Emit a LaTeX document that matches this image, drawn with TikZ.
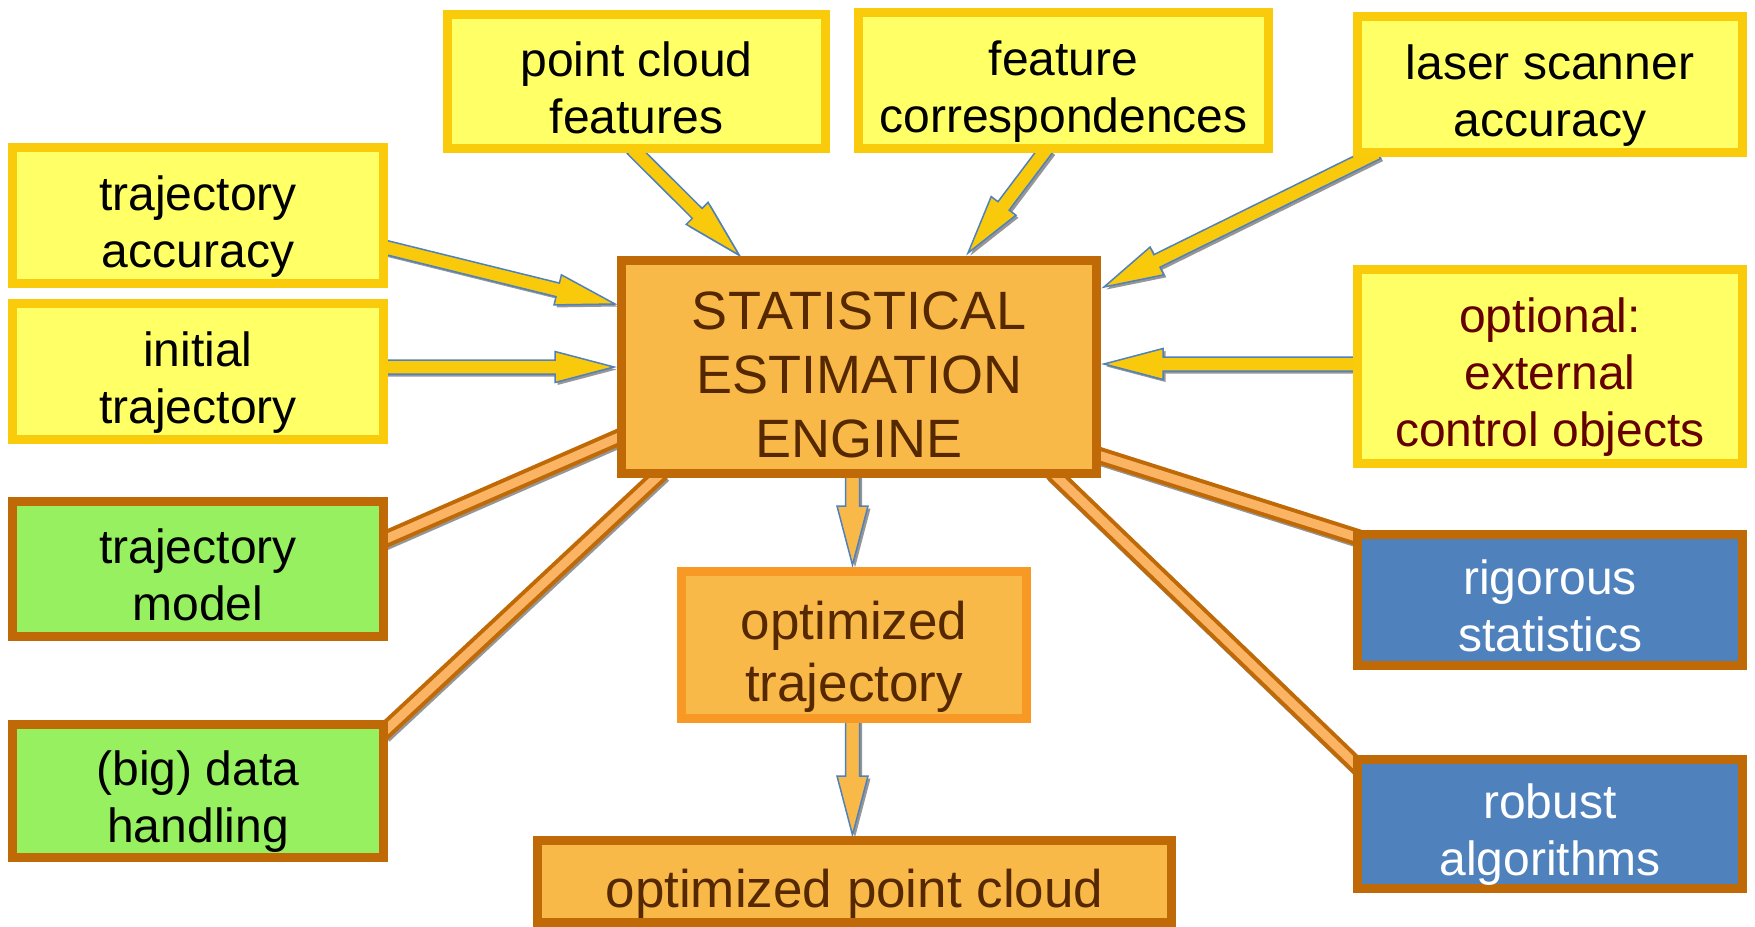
\documentclass[tikz,border=0pt]{standalone}
\usepackage{fontspec}
\setmainfont{Liberation Sans}
\usetikzlibrary{calc,backgrounds}

\definecolor{inyellow}{RGB}{255,255,102}
\definecolor{inyellowline}{RGB}{250,203,10}
\definecolor{arrowyellow}{RGB}{249,201,12}
\definecolor{arrowblue}{RGB}{79,129,189}
\definecolor{engineorange}{RGB}{249,185,73}
\definecolor{boxbrown}{RGB}{191,106,6}
\definecolor{enginetext}{RGB}{85,40,0}
\definecolor{optred}{RGB}{100,0,0}
\definecolor{modelgreen}{RGB}{150,240,96}
\definecolor{propblue}{RGB}{79,129,189}
\definecolor{resultline}{RGB}{247,153,36}
\definecolor{linkfill}{RGB}{250,180,100}
\definecolor{shadowgray}{RGB}{150,150,150}

\begin{document}
\begin{tikzpicture}[x=1pt, y=-1pt]
\tikzset{
  box/.style         = {draw, line width=9pt, align=center, inner sep=0pt,
                        text depth=0pt, font=\fontsize{48}{57}\selectfont},
  inputbox/.style    = {box, draw=inyellowline, fill=inyellow},
  modelbox/.style    = {box, draw=boxbrown, fill=modelgreen},
  qualitybox/.style  = {box, draw=boxbrown, fill=propblue, text=white},
  corebox/.style     = {box, draw=boxbrown, fill=engineorange, text=enginetext,
                        font=\fontsize{54}{64}\selectfont},
  resultbox/.style   = {corebox, font=\fontsize{53}{62}\selectfont},
  inarrow/.style     = {draw=arrowblue, line width=1.5pt, fill=arrowyellow},
  outarrow/.style    = {inarrow, fill=engineorange},
  arrowshadow/.style = {fill=shadowgray, draw=none,
                        transform canvas={xshift=2.5pt, yshift=-2.5pt}},
  link/.style        = {draw=boxbrown, line width=4pt, double=linkfill,
                        double distance=9pt, shorten <=-8pt, shorten >=-8pt},
  linkshadow/.style  = {draw=shadowgray, line width=17pt, shorten <=-8pt,
                        shorten >=-8pt, transform canvas={xshift=1.5pt, yshift=-2pt}}
}
\newcommand{\lifttext}{\rule{0pt}{0.97em}}
\newcommand{\blockarrow}[3]{%
  \coordinate (ba-t) at (#3);
  \coordinate (ba-0) at (#2);
  \coordinate (ba-s) at ($(ba-0)!-6pt!(ba-t)$);
  \coordinate (ba-c) at ($(ba-t)!59pt!(ba-s)$);
  \fill[arrowshadow] ($(ba-s)!7pt!90:(ba-t)$) -- ($(ba-c)!7pt!90:(ba-t)$)
    -- ($(ba-c)!15.5pt!90:(ba-t)$) -- (ba-t) -- ($(ba-c)!15.5pt!-90:(ba-t)$)
    -- ($(ba-c)!7pt!-90:(ba-t)$) -- ($(ba-s)!7pt!-90:(ba-t)$) -- cycle;
  \filldraw[#1] ($(ba-s)!7pt!90:(ba-t)$) -- ($(ba-c)!7pt!90:(ba-t)$)
    -- ($(ba-c)!15.5pt!90:(ba-t)$) -- (ba-t) -- ($(ba-c)!15.5pt!-90:(ba-t)$)
    -- ($(ba-c)!7pt!-90:(ba-t)$) -- ($(ba-s)!7pt!-90:(ba-t)$) -- cycle;
}
\newcommand{\linkto}[2]{%
  \draw[linkshadow] (#1) -- (#2);
  \draw[link] (#1) -- (#2);
}
  \useasboundingbox (0,0) rectangle (1755,926);

  % inputs
  \node[inputbox, minimum width=371pt, minimum height=136pt] (trajacc)  at (198,215.5)  {\lifttext trajectory\\accuracy};
  \node[inputbox, minimum width=371pt, minimum height=136pt] (inittraj) at (198,371.5)  {\lifttext initial\\trajectory};
  \node[inputbox, minimum width=378pt, minimum height=134pt] (pcfeat)   at (636.5,81.5) {\lifttext point cloud\\features};
  \node[inputbox, minimum width=410pt, minimum height=136pt] (featcorr) at (1063.5,80.5) {\lifttext feature\\correspondences};
  \node[inputbox, minimum width=385pt, minimum height=136pt] (laser)    at (1550,84.5)  {\lifttext laser scanner\\accuracy};
  \node[inputbox, minimum width=385pt, minimum height=194pt, text=optred] (extctrl) at (1550,366.5)
    {\lifttext optional:\\external\\control objects};

  % models and properties
  \node[modelbox, minimum width=371pt, minimum height=135pt] (trajmodel) at (198,569) {\lifttext trajectory\\model};
  \node[modelbox, minimum width=371pt, minimum height=133pt] (datahand)  at (198,791) {\lifttext (big) data\\handling};
  \node[qualitybox, minimum width=385pt, minimum height=131pt] (rigstat) at (1550,600) {\lifttext rigorous\\statistics};
  \node[qualitybox, minimum width=385pt, minimum height=129pt] (robalg)  at (1550,824) {\lifttext robust\\algorithms};

  % engine and results
  \node[corebox, minimum width=475pt, minimum height=213pt] (engine) at (859,367)
    {\lifttext STATISTICAL\\ESTIMATION\\ENGINE};
  \node[resultbox, draw=resultline, minimum width=345pt, minimum height=147pt] (opttraj) at (854,645)
    {\lifttext optimized\\trajectory};
  \node[resultbox, minimum width=634pt, minimum height=82pt] (optpc) at (854.5,881.5)
    {\lifttext optimized point cloud};

  \begin{pgfonlayer}{background}
    \blockarrow{inarrow}{$(trajacc.east)+(0,32.5)$}{$(engine.west)+(-2,-63)$}
    \blockarrow{inarrow}{inittraj.east |- engine.west}{$(engine.west)+(-3,0)$}
    \blockarrow{inarrow}{pcfeat.south}{$(engine.north west)+(122,-1)$}
    \blockarrow{inarrow}{$(featcorr.south)+(-20,0)$}{$(engine.north east)+(-133,-3)$}
    \blockarrow{inarrow}{$(laser.south west)+(19,-2)$}{$(engine.north east)+(3,31)$}
    \blockarrow{inarrow}{$(extctrl.west)+(0,-2.5)$}{$(engine.east)+(3,-3)$}
    \blockarrow{outarrow}{$(engine.south)+(-6.5,0)$}{$(opttraj.north)+(-1.5,-2)$}
    \blockarrow{outarrow}{$(opttraj.south)+(-1.5,0)$}{$(optpc.north)+(-2,-1)$}
    \linkto{$(engine.west)+(0,71)$}{$(trajmodel.east)+(0,-31)$}
    \linkto{$(engine.south west)+(39,0)$}{$(datahand.north east)+(0,8)$}
    \linkto{$(engine.south east)+(0,-22)$}{$(rigstat.north west)+(0,6)$}
    \linkto{$(engine.south east)+(-43,0)$}{$(robalg.north west)+(0,7)$}
  \end{pgfonlayer}
\end{tikzpicture}
\end{document}
